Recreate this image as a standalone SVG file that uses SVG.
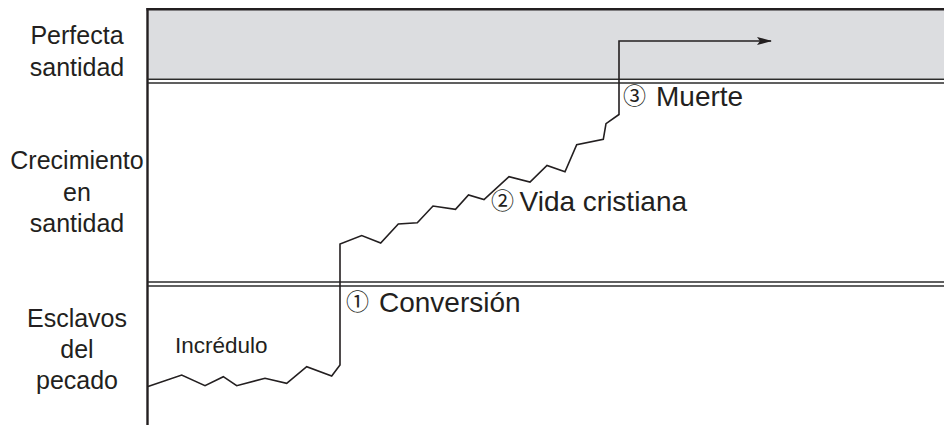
<svg xmlns="http://www.w3.org/2000/svg" width="944" height="425" viewBox="0 0 944 425">
<style>
.lbl{font-family:"Liberation Sans",Arial,sans-serif;font-size:25px;fill:#231f20;text-anchor:middle}
.big{font-family:"Liberation Sans",Arial,sans-serif;font-size:28px;fill:#231f20}
.num{font-family:"Noto Sans CJK JP","DejaVu Sans",sans-serif;font-size:23px;fill:#231f20}
.sm{font-family:"Liberation Sans",Arial,sans-serif;font-size:22.5px;fill:#231f20}
.frame{stroke:#231f20;fill:none}
.dbl{stroke:#2b2b2b;stroke-width:1.4;fill:none}
.path{stroke:#231f20;stroke-width:1.6;fill:none;stroke-linejoin:miter}
</style>
<defs>
<marker id="ah" markerUnits="userSpaceOnUse" markerWidth="16" markerHeight="10" refX="14" refY="5" orient="auto">
<path d="M0,1 L15,5 L0,9 L3,5 z" fill="#231f20"/>
</marker>
</defs>
<rect width="944" height="425" fill="#ffffff"/>
<g id="zone-perfecta">
<rect x="148" y="9" width="796" height="69.5" fill="#dcdde0"/>
<text class="lbl" x="77" y="44">Perfecta</text>
<text class="lbl" x="77" y="75.5">santidad</text>
</g>
<g id="zone-crecimiento">
<text class="lbl" x="77" y="169">Crecimiento</text>
<text class="lbl" x="77" y="201">en</text>
<text class="lbl" x="77" y="231.5">santidad</text>
</g>
<g id="zone-esclavos">
<text class="lbl" x="77" y="326.5">Esclavos</text>
<text class="lbl" x="77" y="358">del</text>
<text class="lbl" x="77" y="389">pecado</text>
</g>
<g id="frame">
<line class="frame" x1="147.5" y1="8" x2="147.5" y2="425" stroke-width="2.4"/>
<line class="frame" x1="146.5" y1="9.2" x2="944" y2="9.2" stroke-width="2.4"/>
<line class="dbl" x1="148" y1="79.3" x2="944" y2="79.3"/>
<line class="dbl" x1="148" y1="83" x2="944" y2="83"/>
<line class="dbl" x1="148" y1="282" x2="944" y2="282"/>
<line class="dbl" x1="148" y1="286" x2="944" y2="286"/>
</g>
<g id="connectors">
<path class="path" marker-end="url(#ah)" d="M148,386.5 L181.7,375 L205,385.7 L223.3,376.7 L236.7,385.7 L265,378.3 L286.7,383.3 L306.7,366.7 L331.7,376 L340,365 L340,244 L361.7,235.5 L380.7,243 L398.3,224 L417.3,222.7 L433,206 L455.5,209.3 L468.5,195 L484,199.5 L509,176.7 L530,182 L547,165.5 L565,171.7 L576.7,144.7 L603.3,139.3 L606,123.7 L619,114.5 L619,41 L771,41"/>
</g>
<g id="node-incredulo">
<text class="sm" x="175" y="352.5">Incrédulo</text>
</g>
<g id="node-conversion">
<text class="num" x="346" y="309.5">①</text>
<text class="big" x="379" y="311.5">Conversión</text>
</g>
<g id="node-vida">
<text class="num" x="491" y="208.5">②</text>
<text class="big" x="519.5" y="211">Vida cristiana</text>
</g>
<g id="node-muerte">
<text class="num" x="623" y="104">③</text>
<text class="big" x="656" y="106">Muerte</text>
</g>
</svg>
